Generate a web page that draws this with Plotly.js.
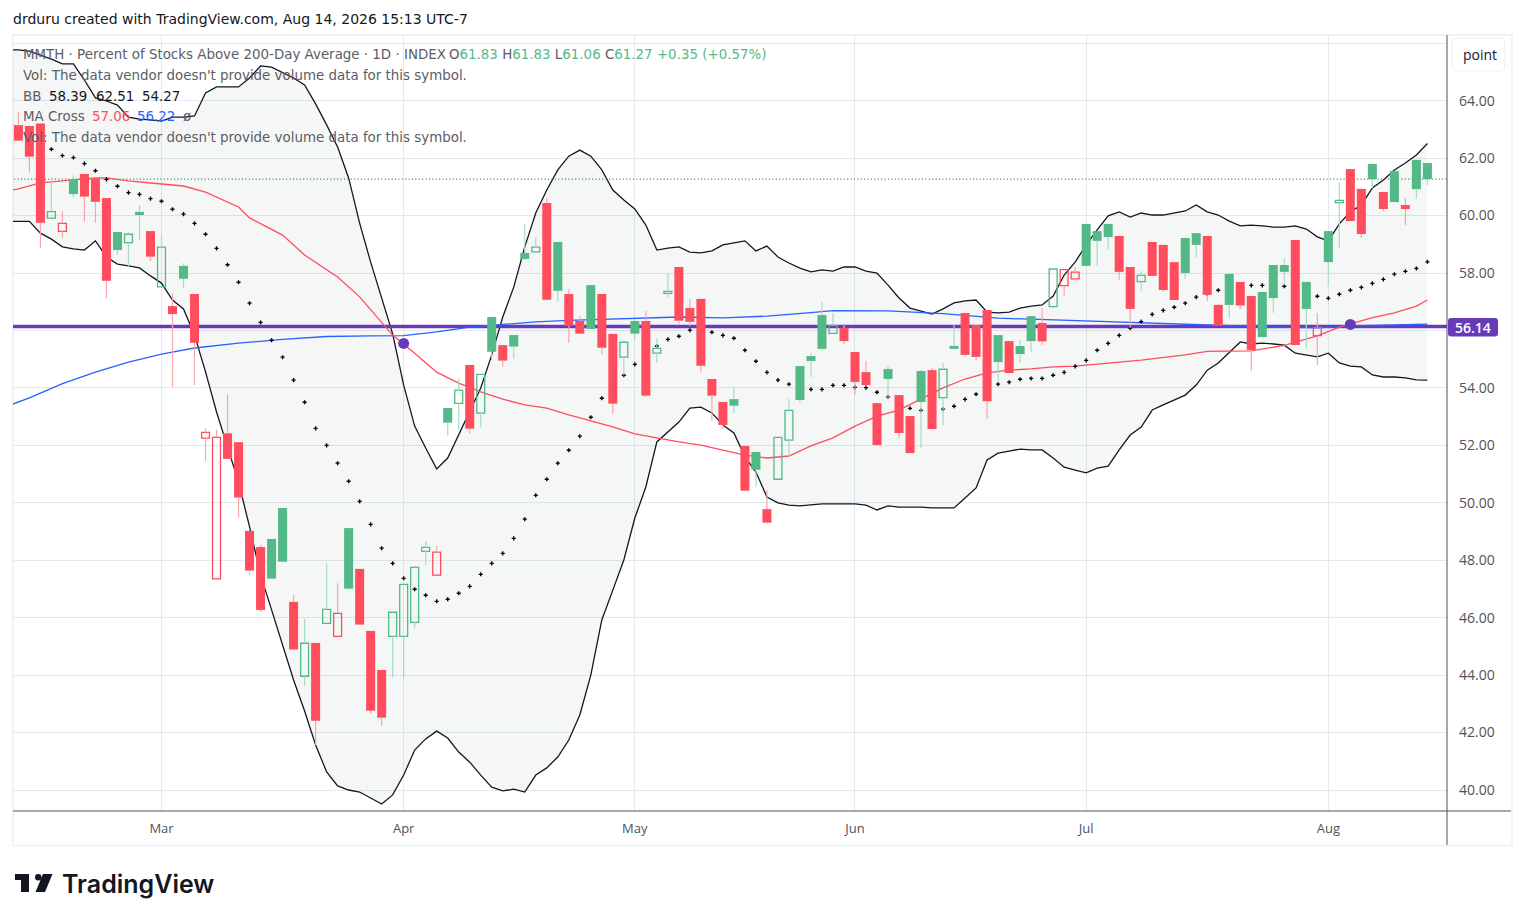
<!DOCTYPE html>
<html><head><meta charset="utf-8">
<script src="https://cdn.plot.ly/plotly-3.0.1.min.js"></script>
<style>html,body{margin:0;padding:0;background:#fff;overflow:hidden}#c{width:1525px;height:921px}</style>
</head><body><div id="c"></div>
<script>
const monthIdx=[13,35,56,76,97,119];
const monthLabels=['Mar','Apr','May','Jun','Jul','Aug'];
const priceTicks=[40,42,44,46,48,50,52,54,56,58,60,62,64,66];
const priceLabels=['40.00','42.00','44.00','46.00','48.00','50.00','52.00','54.00','','58.00','60.00','62.00','64.00',''];
const open=[63.15,63.12,63.21,59.91,59.45,61.26,61.45,61.30,60.61,59.43,59.06,60.13,59.46,57.52,56.85,58.25,57.27,52.25,47.35,52.42,52.11,49.02,48.46,48.74,49.82,46.55,43.96,45.12,45.80,45.35,49.12,47.70,45.54,44.18,45.35,45.35,45.84,48.31,47.48,53.30,53.46,54.80,53.12,56.47,55.49,55.84,58.70,58.74,60.44,59.08,57.27,56.33,57.58,57.27,55.88,55.07,56.33,56.33,55.21,57.29,58.21,56.78,57.10,54.31,53.51,53.61,51.98,51.77,49.78,50.82,52.18,54.76,55.11,56.54,55.90,56.09,55.25,54.55,53.47,54.66,53.75,53.02,54.59,54.62,53.66,55.46,56.61,56.19,56.71,55.84,55.63,55.46,56.50,56.26,56.83,57.56,57.80,59.71,59.46,59.71,59.29,58.21,57.70,59.08,58.98,58.38,59.22,59.39,59.29,56.89,57.97,57.69,57.20,57.34,58.28,58.28,59.15,57.69,55.82,59.46,60.45,61.62,60.93,61.80,60.82,61.55,60.37,61.94,61.83];
const high=[63.62,63.12,63.21,61.33,60.16,61.41,61.45,61.30,60.61,59.43,59.43,60.37,59.46,59.32,57.29,58.34,57.27,52.59,52.54,53.79,52.11,49.02,48.53,48.74,49.82,46.79,45.95,45.12,47.89,47.20,49.12,47.70,45.54,44.18,46.23,47.16,47.82,48.66,48.49,53.30,54.34,54.80,54.47,56.47,55.49,55.84,59.71,59.25,60.61,59.08,57.44,56.50,57.58,57.27,55.88,55.67,56.40,56.68,55.74,57.98,58.21,57.10,57.10,54.31,53.51,54.04,51.98,51.77,50.45,52.28,53.61,54.76,55.22,56.99,56.61,56.23,55.25,54.94,53.47,54.76,53.75,53.02,54.62,54.69,54.87,56.19,56.61,56.19,56.71,55.84,55.63,55.67,56.50,56.78,58.14,58.12,58.20,59.71,59.46,59.71,59.29,58.21,58.07,59.08,58.98,58.38,59.25,59.39,59.29,56.92,57.97,57.69,57.20,57.34,58.28,58.52,59.15,57.69,56.61,59.46,61.17,61.62,60.93,61.80,60.82,61.55,60.61,61.94,61.83];
const low=[62.61,61.49,58.87,59.91,59.22,60.62,59.79,59.75,57.12,58.63,58.22,59.15,58.42,57.52,54.04,57.47,54.10,51.46,47.35,51.53,49.48,47.49,46.20,47.36,47.95,44.89,43.63,41.57,45.80,45.35,46.96,45.76,42.66,42.24,43.91,43.91,45.62,47.84,47.48,52.34,52.54,52.41,52.62,54.97,54.74,55.02,58.45,58.71,57.07,56.99,55.56,55.89,56.05,55.18,53.10,54.44,55.67,53.68,54.88,57.14,56.23,56.16,54.53,52.86,52.54,53.13,50.42,50.56,49.27,50.82,51.59,53.49,54.38,55.29,55.90,55.53,53.75,54.10,52.01,53.65,52.26,51.73,51.91,52.54,52.71,55.32,55.11,54.97,52.92,54.24,54.52,54.87,55.25,55.49,56.83,57.20,57.73,58.25,58.25,58.84,57.76,56.09,57.37,57.90,57.34,57.06,57.79,58.56,57.03,56.16,56.43,56.75,54.59,55.77,56.62,57.58,55.49,55.36,54.80,57.55,58.87,59.81,59.23,60.96,60.16,60.47,59.67,60.58,61.06];
const close=[62.61,62.05,59.75,60.14,59.73,60.75,60.66,60.48,57.73,58.80,59.35,60.02,58.57,58.90,56.57,57.80,55.57,52.45,52.28,51.53,50.18,47.64,46.27,47.36,47.95,44.89,45.11,42.41,46.29,46.15,47.01,45.76,42.76,42.52,46.19,47.16,47.75,48.45,48.28,52.79,53.92,52.58,54.47,55.26,54.95,55.44,58.49,58.90,57.07,57.38,56.16,55.89,56.05,55.40,53.45,55.59,55.89,53.73,55.38,57.36,56.34,56.30,54.77,53.73,52.71,53.38,50.42,51.15,49.31,52.28,53.22,53.58,54.94,55.36,56.18,55.63,54.21,54.10,52.01,54.31,52.43,51.73,53.51,52.57,54.65,55.36,55.15,55.08,53.54,54.90,54.52,55.18,55.63,55.62,58.14,58.12,58.03,58.25,59.12,59.25,58.04,56.75,57.92,57.90,57.41,57.06,58.00,58.98,57.24,56.16,56.89,56.87,55.32,55.77,57.13,58.04,55.49,56.75,56.11,58.38,60.53,59.81,59.36,61.27,60.23,60.47,60.23,60.92,61.27];
const closeBeforeFirst=63.5;
const bbUpper=[65.77,65.73,65.59,65.45,65.28,65.28,64.72,64.10,63.99,63.85,63.43,63.36,63.33,63.29,63.43,63.43,63.47,64.27,64.48,64.48,64.48,64.79,65.21,65.17,64.97,64.79,64.55,63.89,63.16,62.39,61.31,59.74,58.38,57.17,55.88,54.10,52.67,51.91,51.18,51.56,52.36,53.16,54.00,55.15,56.47,57.51,58.91,60.09,60.89,61.59,62.07,62.28,62.07,61.59,60.89,60.54,60.23,59.67,58.80,58.87,58.91,58.73,58.70,58.77,58.98,59.05,59.12,58.77,58.94,58.56,58.35,58.17,58.04,58.11,58.07,58.21,58.21,58.07,58.00,57.58,57.13,56.78,56.68,56.57,56.75,56.96,57.03,57.06,56.64,56.61,56.64,56.78,56.85,56.89,57.20,57.93,58.38,58.98,59.50,59.99,60.13,59.95,60.09,60.02,60.02,60.09,60.16,60.37,60.13,60.02,59.81,59.64,59.67,59.64,59.60,59.60,59.64,59.53,59.26,59.12,59.71,60.13,60.37,60.96,61.24,61.59,61.83,62.11,62.51];
const bbLower=[59.80,59.80,59.39,59.18,58.91,58.84,58.80,59.12,58.56,58.31,58.25,58.18,57.90,57.65,57.06,56.75,55.84,54.56,53.16,51.94,50.72,49.16,47.49,46.27,45.05,43.83,42.75,41.57,40.63,40.14,40.00,39.93,39.72,39.51,39.83,40.52,41.39,41.78,42.05,41.81,41.32,40.97,40.52,40.10,39.97,40.03,39.93,40.52,40.77,41.15,41.74,42.61,44.00,45.92,46.96,48.01,49.47,50.55,52.12,52.47,52.81,53.30,53.33,53.13,52.71,52.43,51.60,51.07,50.20,50.00,49.92,49.89,49.92,49.96,49.96,49.96,49.96,49.92,49.75,49.89,49.85,49.85,49.85,49.82,49.82,49.82,50.17,50.52,51.49,51.73,51.80,51.87,51.84,51.84,51.56,51.24,51.14,51.04,51.21,51.28,51.84,52.36,52.64,53.23,53.41,53.58,53.75,54.10,54.62,54.87,55.25,55.60,55.53,55.56,55.53,55.49,55.21,55.14,55.08,55.21,54.87,54.76,54.73,54.45,54.38,54.38,54.35,54.28,54.27];
const bbBasis=[62.84,62.70,62.49,62.31,62.09,62.02,61.81,61.56,61.26,61.02,60.80,60.74,60.59,60.50,60.22,60.05,59.73,59.35,58.86,58.29,57.68,56.95,56.28,55.66,55.07,54.27,53.50,52.59,52.00,51.38,50.75,50.05,49.25,48.42,47.89,47.37,46.99,46.78,46.57,46.64,46.85,47.09,47.51,47.89,48.24,48.76,49.43,50.26,50.82,51.38,51.83,52.32,52.98,53.64,54.28,54.44,54.82,55.11,55.46,55.69,55.80,56.01,56.09,55.94,55.83,55.73,55.31,54.93,54.54,54.27,54.13,54.10,53.95,53.95,54.09,54.09,54.02,54.01,53.85,53.69,53.41,53.29,53.22,53.16,53.26,53.36,53.60,53.78,54.00,54.13,54.20,54.30,54.33,54.33,54.44,54.54,54.75,54.96,55.31,55.55,55.83,56.08,56.31,56.56,56.70,56.81,56.95,57.16,57.27,57.40,57.51,57.58,57.57,57.57,57.58,57.54,57.41,57.31,57.19,57.12,57.26,57.40,57.50,57.64,57.78,57.96,58.06,58.16,58.39];
const ma50Idx=[-1,0,2,4,7,8,10,13,15,17,20,21,23,24,26,27,29,31,33,34,36,38,40,42,44,46,48,50,52,54,56,58,60,62,64,66,68,70,72,74,76,78,80,82,84,86,88,90,92,94,96,98,102,106,108,112,115,118,120,123,125,127,128];
const ma50=[60.86,60.93,61.14,61.21,61.31,61.31,61.21,61.10,61.03,60.82,60.30,59.92,59.50,59.32,58.63,58.38,57.86,57.17,56.26,55.84,55.21,54.55,54.17,53.86,53.61,53.41,53.30,53.06,52.85,52.64,52.40,52.26,52.12,52.01,51.84,51.66,51.56,51.63,51.98,52.26,52.67,53.02,53.23,53.61,54.00,54.31,54.52,54.62,54.66,54.73,54.76,54.83,54.97,55.15,55.27,55.29,55.48,55.81,56.12,56.45,56.61,56.85,57.06];
const ma200Idx=[-1,1,4,7,10,13,16,20,24,28,32,35,38,41,44,47,50,56,60,64,68,72,74,79,84,89,94,99,104,109,113,118,121,125,128];
const ma200=[53.37,53.65,54.15,54.55,54.90,55.18,55.39,55.56,55.69,55.79,55.81,55.82,55.95,56.12,56.21,56.30,56.35,56.42,56.47,56.44,56.50,56.62,56.69,56.68,56.59,56.43,56.37,56.31,56.23,56.17,56.13,56.09,56.16,56.19,56.22];
const crossIdx=[35,121];
const crossPrice=[55.55,56.21];
const horizontalLevel=56.14;
const lastClose=61.27;
const lastO='61.83',lastH='61.83',lastL='61.06',lastC='61.27',lastChg='+0.35 (+0.57%)';

const GREEN='#53b987',RED='#ff4d5e',WG='#a6dcc4',WR='#f8a5ae',PURPLE='#673ab7',BLUE='#2962ff',INK='#131722';
const FONT='"Open Sans",sans-serif',LFONT='"DejaVu Sans",sans-serif';
const PL=13,PR=1447,PT=35,PB=811;
const X=p=>(p-PL)/(PR-PL), Y=p=>(PB-p)/(PB-PT);
const xR=[-0.49,129.78],yR=[39.269,66.288];
const idx=close.map((_,i)=>i);
const up=close.map((c,i)=>c>=(i?close[i-1]:closeBeforeFirst));
const hollow=close.map((c,i)=>c>open[i]);
const wick=(list)=>{const xs=[],ys=[];list.forEach(i=>{const t=Math.max(open[i],close[i]),b=Math.min(open[i],close[i]);
  if(high[i]>t){xs.push(i,i,null);ys.push(t,high[i],null);}
  if(low[i]<b){xs.push(i,i,null);ys.push(b,low[i],null);}});return{xs,ys};};
const wg=wick(idx.filter(i=>up[i])),wr=wick(idx.filter(i=>!up[i]));
const line=(x,y,color,w,extra)=>Object.assign({type:'scatter',mode:'lines',x,y,line:{color,width:w},hoverinfo:'skip'},extra||{});
const idx1=[-1].concat(idx), upper=[bbUpper[0]].concat(bbUpper), lower=[bbLower[0]].concat(bbLower);
const traces=[
 line(idx1,lower,'#131722',1.3),
 line(idx1,upper,'#131722',1.3,{fill:'tonexty',fillcolor:'rgba(120,135,135,0.075)'}),
 line([-1,131],[lastClose,lastClose],'#26805c',1.3,{line:{color:'#26805c',width:1.3,dash:'1px,2.4px'}}),
 line([-1,131],[horizontalLevel,horizontalLevel],PURPLE,3.5),
 line(ma200Idx,ma200,BLUE,1.3),
 line(ma50Idx,ma50,RED,1.3),
 {type:'scatter',mode:'markers',x:idx,y:bbBasis,marker:{symbol:'cross',size:3.4,color:'#000'},hoverinfo:'skip'},
 {type:'bar',xaxis:'x2',yaxis:'y2',x:idx,base:idx.map(i=>Math.min(open[i],close[i])),y:idx.map(i=>Math.abs(close[i]-open[i])),
  width:idx.map(i=>hollow[i]?0.72:0.82),
  marker:{color:idx.map(i=>hollow[i]?'rgba(0,0,0,0)':(up[i]?GREEN:RED)),
   line:{color:idx.map(i=>up[i]?GREEN:RED),width:idx.map(i=>hollow[i]?1.3:0)}},hoverinfo:'skip'},
 line(wg.xs,wg.ys,WG,1.2,{xaxis:'x2',yaxis:'y2'}),
 line(wr.xs,wr.ys,WR,1.2,{xaxis:'x2',yaxis:'y2'}),
 {type:'scatter',mode:'markers',xaxis:'x2',yaxis:'y2',x:crossIdx,y:crossPrice,marker:{size:11,color:PURPLE},hoverinfo:'skip'}
];
const ann=[];
const txt=(px,py,text,size,color,anchor,extra)=>ann.push(Object.assign({xref:'paper',yref:'paper',x:X(anchor?px:px-2),y:Y(py),text,showarrow:false,xanchor:anchor||'left',yanchor:'middle',align:'left',font:{family:LFONT,size,color}},extra||{}));
const S=13.4, GT='#5a5d66';
const sp=(t,c)=>'<span style="color:'+c+'">'+t+'</span>';
txt(13,19,'drduru created with TradingView.com, Aug 14, 2026 15:13 UTC-7',14,INK);
txt(23,54,'MMTH · Percent of Stocks Above 200-Day Average · 1D · INDEX',S,GT);
txt(449,54,sp('O',GT)+sp(lastO,GREEN)+' '+sp('H',GT)+sp(lastH,GREEN)+' '+sp('L',GT)+sp(lastL,GREEN)+' '+sp('C',GT)+sp(lastC,GREEN)+' '+sp(lastChg,GREEN),S,GREEN);
txt(23,75,"Vol: The data vendor doesn't provide volume data for this symbol.",S,GT);
txt(23,96,'BB',S,GT);txt(49,96,'58.39',S,INK);txt(96,96,'62.51',S,INK);txt(142,96,'54.27',S,INK);
txt(23,117,'MA Cross',S,GT);txt(92,117,'57.06',S,RED);txt(137,117,'56.22',S,BLUE);txt(183,117,'ø',S,GT);
txt(23,138,"Vol: The data vendor doesn't provide volume data for this symbol.",S,GT);
txt(1480,54,'point',14,INK,'center',{font:{family:FONT,size:14,color:INK}});
txt(1472.5,327,'56.14',14,'#fff','center',{font:{family:FONT,size:14,color:'#fff',weight:600}});
txt(61.5,884,'TradingView',25,INK,null,{font:{family:'Inter,sans-serif',size:25,color:INK,weight:600}});

const rr=(x0,y0,x1,y1,r)=>{const a=(x,y)=>X(x)+','+Y(y);return 'M'+a(x0+r,y0)+' L'+a(x1-r,y0)+' Q'+a(x1,y0)+' '+a(x1,y0+r)+' L'+a(x1,y1-r)+' Q'+a(x1,y1)+' '+a(x1-r,y1)+' L'+a(x0+r,y1)+' Q'+a(x0,y1)+' '+a(x0,y1-r)+' L'+a(x0,y0+r)+' Q'+a(x0,y0)+' '+a(x0+r,y0)+' Z';};
const poly=pts=>'M'+pts.map(p=>X(p[0])+','+Y(p[1])).join(' L')+' Z';
const pref={xref:'paper',yref:'paper'};
const shapes=[
 Object.assign({type:'rect',x0:X(13),x1:X(1512),y0:Y(35),y1:Y(845.5),line:{color:'#f0f3f5',width:2},layer:'below'},pref),
 Object.assign({type:'line',x0:X(PL),x1:X(1511),y0:Y(811),y1:Y(811),line:{color:'#50535e',width:1}},pref),
 Object.assign({type:'line',x0:X(1447),x1:X(1447),y0:Y(35),y1:Y(845),line:{color:'#50535e',width:1}},pref),
 Object.assign({type:'path',path:rr(1452,38,1505,71,6),line:{color:'#eceff2',width:1},fillcolor:'#fff'},pref),
 Object.assign({type:'path',path:rr(1448,318,1498,336.5,3),line:{width:0},fillcolor:PURPLE},pref),
 Object.assign({type:'path',path:poly([[15,874],[29,874],[29,892],[21,892],[21,880],[15,880]]),line:{width:0},fillcolor:INK},pref),
 Object.assign({type:'circle',x0:X(35),x1:X(41.5),y0:Y(874),y1:Y(880.5),line:{width:0},fillcolor:INK},pref),
 Object.assign({type:'path',path:poly([[43,874],[52.5,874],[45,892],[35.5,892]]),line:{width:0},fillcolor:INK},pref)
];
const layout={
 width:1525,height:921,margin:{l:PL,r:1525-PR,t:PT,b:921-PB},paper_bgcolor:'#fff',plot_bgcolor:'#fff',showlegend:false,
 barmode:'overlay',font:{family:FONT,size:13.5,color:'#50535e'},
 xaxis:{range:xR,tickmode:'array',tickvals:monthIdx,ticktext:monthLabels,showgrid:true,gridcolor:'#e3e9ee',gridwidth:1,zeroline:false,showline:false,ticks:'',ticklabelstandoff:8,fixedrange:true,tickfont:{family:FONT,size:13,color:'#50535e'}},
 yaxis:{range:yR,side:'right',tickmode:'array',tickvals:priceTicks,ticktext:priceLabels,showgrid:true,gridcolor:'#e3e9ee',gridwidth:1,zeroline:false,showline:false,ticks:'',ticklabelstandoff:11,fixedrange:true,tickfont:{family:FONT,size:14,color:'#50535e'}},
 xaxis2:{range:xR,overlaying:'x',visible:false,fixedrange:true},
 yaxis2:{range:yR,overlaying:'y',visible:false,fixedrange:true},
 annotations:ann,shapes
};
Plotly.newPlot('c',traces,layout,{displayModeBar:false,responsive:false});
</script></body></html>
